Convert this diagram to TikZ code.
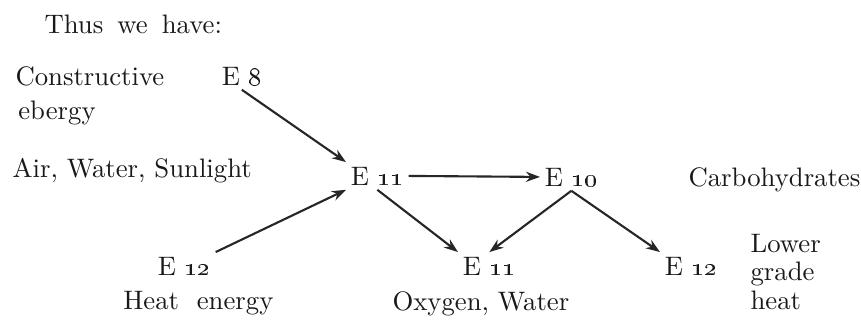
\documentclass[tikz,border=0pt]{standalone}
\usetikzlibrary{arrows.meta,positioning}
\newcommand{\En}[1]{E\ \oldstylenums{#1}}
\begin{document}
\begin{tikzpicture}[x=0.0125cm,y=-0.0125cm,>={Stealth[length=5pt,width=3.6pt]},
  txt/.style={inner sep=0pt,anchor=base west,font=\fontsize{9.5}{10}\selectfont,text=black!90},
  en/.style={txt,inner sep=1.5pt},
  flow/.style={->,line width=0.75pt,draw=black!85}]
\useasboundingbox (0,0) rectangle (861,321);
\node[txt] (intro) at (44,33) {Thus\hspace{5pt}we\hspace{5pt}have:};
\node[txt] (cons) at (15,85) {Constructive};
\node[txt,below=1.8mm of cons.south west,anchor=north west,xshift=1pt] (eb) {ebergy};
\node[txt] (air) at (12,177) {Air, Water, Sunlight};
% energy levels
\node[en] (e8) at (217,85) {\En{8}};
\node[en] (e11a) at (346,185) {\En{11}};
\node[en] (e10) at (540,186) {\En{10}};
\node[en] (e12l) at (153,275) {\En{12}};
\node[en] (e11b) at (458,275) {\En{11}};
\node[en] (e12r) at (660,275) {\En{12}};
% labels
\node[txt] (carb) at (688,186) {Carbohydrates};
\node[txt,below=1.4mm of e12l,anchor=north,xshift=5pt] (heat) {Heat\ \ energy};
\node[txt,below=1.4mm of e11b,anchor=north,xshift=-3pt] (oxy) {Oxygen, Water};
\node[txt,anchor=north west,align=left] (low) at (750,234) {Lower\\grade\\heat};
% arrows
\draw[flow] (e8.south) -- (e11a.north west);
\draw[flow] (e12l.north east) -- (e11a.south west);
\draw[flow] (e11a.east) -- (e10.west);
\draw[flow] (e11a.south) -- (e11b.north west);
\draw[flow] (e10.south) -- (e11b.north);
\draw[flow] (e10.south) -- (e12r.north west);
\end{tikzpicture}
\end{document}
